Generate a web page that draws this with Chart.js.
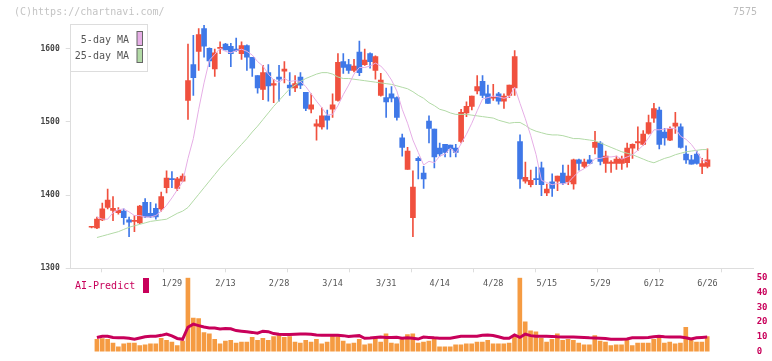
<!DOCTYPE html>
<html><head><meta charset="utf-8">
<script src="https://cdn.jsdelivr.net/npm/chart.js@4.4.1/dist/chart.umd.min.js"></script>
<style>
html,body{margin:0;padding:0;background:#fff;}
#wrap{position:relative;width:772px;height:361px;overflow:hidden;}
canvas{position:absolute;left:0;top:0;}
</style>
</head><body>
<div id="wrap"><canvas id="main" width="772" height="361"></canvas><canvas id="vol" width="772" height="361"></canvas></div>
<script>
// ---- data ----
const opens  = [1356,1355,1366,1383,1379,1376,1378,1366,1364,1362,1390,1375,1382,1381,1410,1422,1409,1419,1529,1578,1596,1627,1600,1572,1600,1606,1603,1599,1593,1604,1588,1563,1544,1567,1550,1561,1569,1550,1546,1561,1540,1517,1494,1493,1508,1517,1529,1582,1578,1570,1595,1578,1593,1570,1536,1533,1538,1533,1478,1435,1369,1450,1430,1501,1490,1464,1469,1468,1464,1473,1512,1521,1542,1555,1538,1532,1538,1528,1536,1546,1473,1419,1414,1422,1437,1403,1418,1419,1430,1418,1415,1448,1439,1448,1465,1471,1443,1443,1443,1443,1444,1464,1471,1469,1484,1505,1516,1486,1475,1494,1493,1456,1448,1456,1439,1439];
const highs  = [1357,1370,1389,1408,1398,1383,1381,1370,1372,1386,1395,1390,1388,1404,1433,1432,1424,1429,1606,1618,1627,1632,1601,1599,1609,1607,1607,1614,1609,1605,1588,1563,1577,1578,1558,1577,1582,1567,1563,1567,1540,1538,1503,1519,1516,1538,1593,1593,1585,1585,1610,1599,1594,1590,1566,1546,1548,1534,1483,1465,1433,1452,1439,1508,1490,1471,1469,1468,1469,1517,1527,1535,1563,1563,1550,1551,1540,1538,1550,1597,1482,1445,1434,1438,1445,1415,1429,1426,1441,1441,1449,1449,1449,1454,1487,1473,1460,1447,1453,1453,1471,1470,1493,1488,1509,1525,1520,1491,1493,1513,1497,1467,1454,1460,1450,1463];
const lows   = [1355,1354,1365,1381,1365,1374,1360,1343,1350,1361,1369,1369,1367,1378,1403,1410,1406,1419,1503,1536,1570,1588,1575,1562,1593,1598,1575,1596,1585,1570,1562,1539,1530,1528,1526,1528,1553,1536,1541,1545,1515,1512,1475,1490,1490,1506,1528,1566,1566,1568,1563,1577,1573,1558,1535,1506,1527,1502,1453,1435,1343,1422,1409,1471,1437,1453,1452,1452,1452,1471,1507,1516,1538,1533,1525,1529,1524,1518,1533,1536,1409,1416,1411,1414,1399,1399,1398,1406,1414,1414,1408,1434,1437,1443,1456,1441,1431,1431,1435,1435,1438,1450,1461,1468,1483,1499,1463,1468,1474,1484,1464,1443,1442,1442,1429,1437];
const closes = [1356,1367,1381,1393,1382,1379,1369,1363,1365,1385,1370,1370,1370,1398,1423,1421,1422,1426,1556,1560,1619,1603,1583,1594,1601,1598,1593,1597,1604,1588,1573,1546,1567,1549,1552,1558,1572,1546,1552,1550,1518,1523,1497,1508,1502,1523,1581,1574,1570,1576,1567,1584,1582,1589,1557,1527,1532,1506,1465,1460,1411,1447,1422,1491,1452,1456,1458,1463,1458,1513,1521,1535,1548,1536,1525,1533,1528,1535,1550,1589,1422,1424,1420,1421,1414,1408,1409,1426,1416,1426,1448,1443,1445,1443,1472,1446,1453,1445,1449,1450,1464,1469,1473,1483,1499,1518,1469,1478,1491,1498,1465,1448,1442,1443,1443,1448];
const ma5  = [null,1370,1367,1367,1376,1380,1381,1377,1372,1372,1370,1370,1372,1378,1386,1396,1407,1418,1450,1477,1517,1553,1584,1592,1600,1596,1594,1597,1599,1596,1591,1582,1576,1565,1557,1554,1559,1555,1556,1555,1548,1538,1528,1519,1509,1510,1522,1537,1550,1565,1574,1574,1576,1580,1576,1568,1557,1542,1517,1498,1475,1458,1441,1446,1444,1453,1456,1464,1457,1470,1483,1498,1515,1531,1533,1535,1534,1532,1534,1547,1525,1504,1481,1455,1420,1417,1414,1416,1415,1417,1425,1432,1436,1441,1450,1450,1452,1452,1453,1449,1452,1455,1461,1468,1478,1489,1489,1490,1491,1491,1480,1476,1469,1459,1448,1445];
const ma25 = [null,1342,1344,1346,1348,1350,1353,1356,1358,1360,1362,1364,1365,1366,1367,1371,1375,1378,1383,1392,1401,1410,1419,1428,1437,1445,1453,1461,1469,1477,1486,1494,1503,1512,1521,1529,1537,1545,1550,1555,1559,1562,1565,1567,1567,1565,1561,1559,1559,1558,1557,1556,1555,1554,1553,1552,1551,1549,1547,1545,1541,1536,1532,1526,1522,1517,1515,1512,1510,1510,1510,1509,1508,1507,1506,1505,1502,1500,1498,1499,1499,1495,1490,1487,1485,1483,1482,1482,1481,1479,1477,1477,1476,1475,1474,1471,1468,1465,1462,1459,1457,1455,1452,1449,1446,1444,1447,1450,1452,1455,1457,1459,1460,1461,1462,1462];
const volume = [null,8.3,8.8,8.3,5.8,3.3,5.2,5.8,5.8,4,4.6,5.2,5.2,9,7.7,6.5,4,7.1,50,22.7,22.3,12.9,12.1,8.3,5.2,7.1,7.7,5.8,6.5,6.5,9.6,7.7,9,7.7,10.2,11.5,9.6,10.2,6.5,5.8,7.7,6.5,8.3,5.2,6.5,10.6,10.2,7.1,5.2,5.8,8.3,4.6,5.2,9,6.5,12.1,5.8,5.2,8.3,11.5,12.1,5.8,6.5,7.1,8.3,3.3,3.3,3.3,4.6,4.6,5.2,5.2,6.5,6.5,7.7,5.2,5.2,5.2,5.8,10.8,50,20.2,14,13.3,9,6.5,8.3,12.1,7.7,8.3,7.7,5.8,4.6,4.6,10.8,7.1,6.5,4,4.6,4.6,7.7,4,5.8,5.8,5.8,8.3,9.6,5.8,6.5,5.2,5.8,16.5,7.7,6.5,6.5,10.2];
const aiPredict = [null,9.5,10.4,10.4,9.6,9.4,9.4,9,8.4,9.2,10,10.4,10.4,11,11.8,10.6,8.9,8.3,16.5,18.6,17.6,16.6,16,16,15.3,15.6,15.4,14.2,13.8,13.4,13,12.4,13.8,13.5,12.2,11.7,11.5,11.5,11.7,11.9,11.9,11.8,11.2,11,11,11,11,10.8,10.2,10.6,10.8,9,9.2,9.5,9.8,9.6,9.5,9.7,9.1,9.3,9,8.5,9.8,9.6,9.3,9.1,9,9,9.7,10.4,10.4,10.4,10.4,11,11.2,10.9,10,9,9,11.3,9.6,11.8,10.8,10.4,10.4,10.4,10.3,10,9.8,9.8,9.8,9.7,9.5,9.3,9.2,9,8.8,8.3,8.3,8.3,8.6,9.3,9.4,9.4,9.6,10,10.4,10,9.8,9.8,9.8,9.4,8.5,9.4,9.6,9.8];
const labelIdx   = [15,25,35,45,55,65,75,85,95,105,115];
const tickLabels = ['1/29','2/13','2/28','3/14','3/31','4/14','4/28','5/15','5/29','6/12','6/26'];
const priceTicks = [1300,1400,1500,1600];
const volTicks   = [0,10,20,30,40,50];

// ---- styles ----
const RED='#f0503e', BLUE='#3f78e8', PINK='#e6aee6', GREEN='#b2daa6', ORANGE='#f59b42', CRIMSON='#c8005a';
const FONT='"DejaVu Sans Mono", "Liberation Mono", monospace';
Chart.defaults.font.family = FONT;
const XMIN=-3.9, XMAX=123.5;
const up = i => closes[i] >= opens[i];

const mainDeco = {
  id:'mainDeco',
  afterDraw(chart){
    const c = chart.ctx;
    c.save();
    c.font = '10px '+FONT; c.textBaseline='middle';
    c.fillStyle='#c4c4c4'; c.textAlign='left';
    c.fillText('(C)https://chartnavi.com/', 14, 12);
    c.fillStyle='#bdbdbd'; c.textAlign='right';
    c.fillText('7575', 757, 12);
    // legend box
    c.fillStyle='#fff'; c.fillRect(70.5,24.5,77,47);
    c.strokeStyle='#dddddd'; c.lineWidth=1; c.strokeRect(70.5,24.5,77,47);
    c.fillStyle='#555'; c.textAlign='right';
    c.fillText('5-day MA', 129, 40);
    c.fillText('25-day MA', 129, 56);
    c.fillStyle=PINK; c.fillRect(137,31.5,5.5,14);
    c.strokeStyle='#666'; c.strokeRect(137,31.5,5.5,14);
    c.fillStyle=GREEN; c.fillRect(137,48.5,5.5,14);
    c.strokeRect(137,48.5,5.5,14);
    c.restore();
  }
};

new Chart(document.getElementById('main'), {
  type:'bar',
  data:{ datasets:[
    { type:'line', data: ma5.map((v,i)=>({x:i,y:v})), borderColor:PINK, borderWidth:1, pointRadius:0, tension:0, order:0 },
    { type:'line', data: ma25.map((v,i)=>({x:i,y:v})), borderColor:GREEN, borderWidth:1, pointRadius:0, tension:0, order:0 },
    { data: opens.map((o,i)=>({x:i,y:[o,closes[i]]})), backgroundColor: ctx=>up(ctx.dataIndex)?RED:BLUE, barThickness:5, grouped:false, minBarLength:1, order:1 },
    { data: lows.map((l,i)=>({x:i,y:[l,highs[i]]})), backgroundColor: ctx=>up(ctx.dataIndex)?RED:BLUE, barThickness:1, grouped:false, order:2 }
  ]},
  options:{
    responsive:false, animation:false, devicePixelRatio:1,
    layout:{ padding:{ top:25, right:19, left:0, bottom:0 } },
    plugins:{ legend:{display:false}, tooltip:{enabled:false} },
    scales:{
      x:{ type:'linear', position:'bottom', min:XMIN, max:XMAX, weight:1, offset:false,
          grid:{display:false, drawTicks:false}, border:{display:false},
          ticks:{ autoSkip:false, maxRotation:0, padding:5, color:'#555', font:{size:8.5},
                  callback:(v)=>{ const k=labelIdx.indexOf(v); return k>=0?tickLabels[k]:''; } },
          afterBuildTicks:(s)=>{ s.ticks = labelIdx.map(v=>({value:v})); },
          afterFit:(s)=>{ s.height = 87.7; } },
      xg:{ type:'linear', position:'bottom', min:0, max:11, weight:0, offset:false,
           ticks:{ display:false, stepSize:1 },
           grid:{ drawOnChartArea:false, tickLength:4, color:'#dddddd' },
           border:{ color:'#dddddd' },
           afterFit:(s)=>{ s.height = 5; } },
      y:{ type:'linear', position:'left', min:1300, max:1632,
          afterBuildTicks:(s)=>{ s.ticks = priceTicks.map(v=>({value:v})); },
          ticks:{ color:'#444', font:{size:8, weight:'bold'}, padding:6, callback:(v)=>String(v) },
          grid:{ drawOnChartArea:false, tickLength:5, color:'#dddddd' },
          border:{ color:'#dddddd' },
          afterFit:(s)=>{ s.width = 70.7; } }
    }
  },
  plugins:[mainDeco]
});

const volDeco = {
  id:'volDeco',
  afterDraw(chart){
    const c = chart.ctx;
    c.save();
    c.font = '10px '+FONT; c.textBaseline='middle'; c.textAlign='left';
    c.fillStyle=CRIMSON;
    c.fillText('AI-Predict', 75, 286);
    c.fillRect(143,278,6,15);
    c.restore();
  }
};

new Chart(document.getElementById('vol'), {
  type:'bar',
  data:{ datasets:[
    { type:'line', xAxisID:'x', yAxisID:'yv', data: aiPredict.map((v,i)=>({x:i,y:v})), borderColor:CRIMSON, borderWidth:3, pointRadius:0, tension:0, order:0 },
    { xAxisID:'x', yAxisID:'yv', data: volume.map((v,i)=>({x:i,y:v})), backgroundColor:ORANGE, barThickness:4, order:1 }
  ]},
  options:{
    responsive:false, animation:false, devicePixelRatio:1,
    layout:{ padding:{ top:277.7, bottom:3.3, left:70.7, right:0 } },
    plugins:{ legend:{display:false}, tooltip:{enabled:false} },
    scales:{
      x:{ type:'linear', display:false, min:XMIN, max:XMAX, offset:false },
      yv:{ type:'linear', position:'right', min:0, max:50,
           afterBuildTicks:(s)=>{ s.ticks = volTicks.map(v=>({value:v})); },
           ticks:{ color:CRIMSON, font:{size:9, weight:'bold'}, padding:4 },
           grid:{ display:false, drawTicks:false }, border:{ display:false },
           afterFit:(s)=>{ s.width = 19.3; } }
    }
  },
  plugins:[volDeco]
});
</script>
</body></html>
